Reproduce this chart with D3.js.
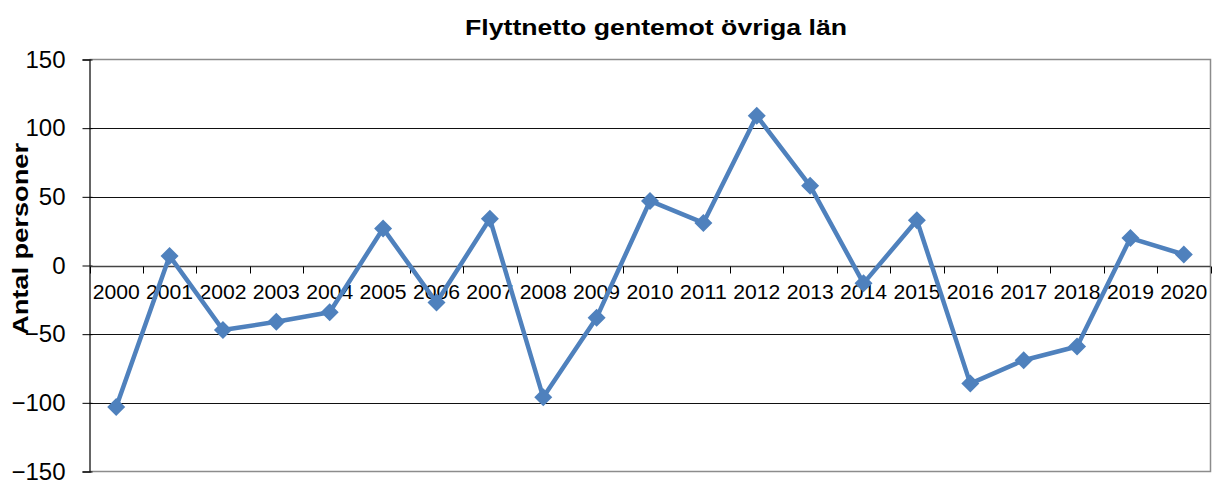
<!DOCTYPE html>
<html>
<head>
<meta charset="utf-8">
<script src="https://cdn.jsdelivr.net/npm/d3@7"></script>
<style>
  html, body { margin: 0; padding: 0; background: #fff; }
  svg { display: block; font-family: "Liberation Sans", Arial, sans-serif; }
</style>
</head>
<body>
<svg id="chart" width="1212" height="481"></svg>
<script>
// Net migration against the other counties, per year
const years = ["2000","2001","2002","2003","2004","2005","2006","2007","2008","2009","2010",
               "2011","2012","2013","2014","2015","2016","2017","2018","2019","2020"];
const netMigration = [-103, 7, -47, -41, -34, 27, -27, 34, -96, -38, 47,
                      31, 109, 58, -13, 33, -86, -69, -59, 20, 8];
const yTicks = [-150, -100, -50, 0, 50, 100, 150];
const titleText = "Flyttnetto gentemot övriga län";
const yTitle = "Antal personer";

const svg = d3.select("#chart");
const plot = { left: 89.5, right: 1210.5, top: 59.5, bottom: 471.5 };

const x = d3.scaleBand().domain(years).range([plot.left, plot.right]).padding(0);
const y = d3.scaleLinear().domain([-150, 150]).range([plot.bottom, plot.top]);

// horizontal gridlines
svg.append("g").selectAll("line")
  .data(yTicks.filter(d => d !== 150 && d !== -150 && d !== 0))
  .join("line")
  .attr("x1", plot.left).attr("x2", plot.right)
  .attr("y1", d => Math.round(y(d)) + 0.5).attr("y2", d => Math.round(y(d)) + 0.5)
  .attr("stroke", "#111").attr("stroke-width", 1);

// plot frame (top, right, bottom)
svg.append("path")
  .attr("d", `M${plot.left},${plot.top}H${plot.right}V${plot.bottom}H${plot.left}`)
  .attr("fill", "none").attr("stroke", "#8c8c8c").attr("stroke-width", 1.5);

// y axis
const yAxis = svg.append("g")
  .attr("transform", `translate(${plot.left},0)`)
  .call(d3.axisLeft(y).tickValues(yTicks).tickSize(7).tickPadding(17).tickFormat(d3.format("d")));
yAxis.select(".domain").attr("stroke", "#333").attr("stroke-width", 1.5);
// ticks cross the axis line
yAxis.selectAll(".tick line").attr("stroke", "#000").attr("x1", 3);
yAxis.selectAll(".tick text")
  .attr("font-size", 24).attr("fill", "#000")
  .attr("font-family", "Liberation Sans, Arial, sans-serif");

// category axis at zero, ticks on the category boundaries
const y0 = Math.round(y(0)) + 0.5;
const xAxisG = svg.append("g");
xAxisG.append("line")
  .attr("x1", plot.left).attr("x2", plot.right)
  .attr("y1", y0).attr("y2", y0)
  .attr("stroke", "#444").attr("stroke-width", 1.5);
xAxisG.selectAll("line.tk")
  .data(d3.range(years.length + 1))
  .join("line").attr("class", "tk")
  .attr("x1", i => Math.round(plot.left + i * x.bandwidth()) + 0.5)
  .attr("x2", i => Math.round(plot.left + i * x.bandwidth()) + 0.5)
  .attr("y1", y0).attr("y2", y0 + 7)
  .attr("stroke", "#000");
xAxisG.selectAll("text")
  .data(years)
  .join("text")
  .attr("x", d => x(d) + x.bandwidth() / 2)
  .attr("y", y0 + 32)
  .attr("text-anchor", "middle")
  .attr("font-size", 20)
  .attr("textLength", 47)
  .attr("lengthAdjust", "spacingAndGlyphs")
  .attr("fill", "#000")
  .text(d => d);

// series line
const cx = d => x(d) + x.bandwidth() / 2;
const line = d3.line().x(d => cx(d.year)).y(d => y(d.value));
const series = years.map((yr, i) => ({ year: yr, value: netMigration[i] }));

svg.append("path")
  .datum(series)
  .attr("d", line)
  .attr("fill", "none")
  .attr("stroke", "#4f81bd")
  .attr("stroke-width", 4.5)
  .attr("stroke-linejoin", "round");

// diamond markers
svg.append("g").selectAll("path")
  .data(series)
  .join("path")
  .attr("transform", d => `translate(${cx(d.year)},${y(d.value)})`)
  .attr("d", "M0,-9L9,0L0,9L-9,0Z")
  .attr("fill", "#4f81bd");

// title
svg.append("text")
  .attr("x", 656).attr("y", 35)
  .attr("text-anchor", "middle")
  .attr("font-size", 22).attr("font-weight", "bold")
  .attr("textLength", 382)
  .attr("lengthAdjust", "spacingAndGlyphs")
  .attr("fill", "#000")
  .text(titleText);

// y axis title
svg.append("text")
  .attr("transform", "translate(28,239) rotate(-90)")
  .attr("text-anchor", "middle")
  .attr("font-size", 22).attr("font-weight", "bold")
  .attr("textLength", 192)
  .attr("lengthAdjust", "spacingAndGlyphs")
  .attr("fill", "#000")
  .text(yTitle);
</script>
</body>
</html>
